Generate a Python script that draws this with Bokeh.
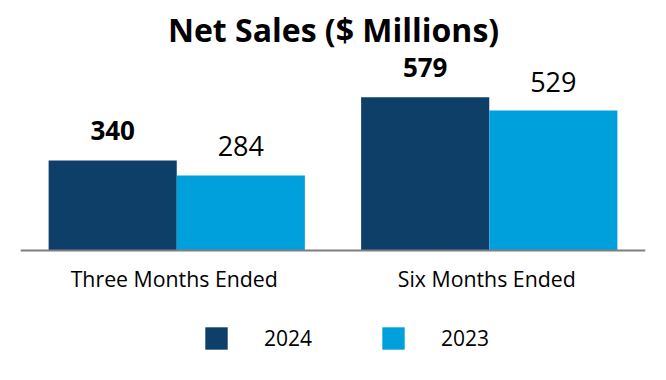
from bokeh.plotting import figure
from bokeh.models import (FactorRange, Range1d, ColumnDataSource, Legend,
                          LegendItem, Span, Label)
from bokeh.transform import dodge
from bokeh.core.properties import value
from bokeh.embed import file_html
from bokeh.resources import INLINE

title_text = "Net Sales ($ Millions)"
categories = ["Three Months Ended", "Six Months Ended"]
series = ["2024", "2023"]
sales_2024 = [340, 579]
sales_2023 = [284, 529]

FONT = "Open Sans"
DARK = "#0e3f68"
LIGHT = "#00a0dc"

src = ColumnDataSource(dict(
    cat=categories,
    base=[0] * len(categories),
    y2024=sales_2024,
    y2023=sales_2023,
    l2024=[str(v) for v in sales_2024],
    l2023=[str(v) for v in sales_2023],
))

PX = 0.2645  # pixels per million
p = figure(width=650, height=364,
           x_range=FactorRange(*categories, range_padding=0),
           y_range=Range1d(-114 / PX, 250 / PX),
           output_backend="svg", toolbar_location=None,
           min_border_left=20, min_border_right=5,
           min_border_top=0, min_border_bottom=0)
p.outline_line_color = None
p.grid.visible = False
p.axis.visible = False

W = 0.41
r1 = p.vbar(x=dodge("cat", -W / 2, range=p.x_range), top="y2024", width=W,
            source=src, fill_color=DARK, line_color=None)
r2 = p.vbar(x=dodge("cat", W / 2, range=p.x_range), top="y2023", width=W,
            source=src, fill_color=LIGHT, line_color=None)

# baseline
p.add_layout(Span(location=0, dimension="width", line_color="#7f7f7f",
                  line_width=2))

# value labels
p.text(x=dodge("cat", -W / 2, range=p.x_range), y="y2024", text="l2024", source=src,
       text_align="center", text_baseline="alphabetic", y_offset=-30,
       text_font=value(FONT), text_font_size="26px", text_font_style="bold",
       text_color="black")
p.text(x=dodge("cat", W / 2, range=p.x_range), y="y2023", text="l2023", source=src,
       text_align="center", text_baseline="alphabetic", y_offset=-29,
       text_font=value(FONT), text_font_size="27px", text_font_style="normal",
       text_color="black")

# category labels
p.text(x="cat", y="base", text="cat", source=src,
       text_align="center", text_baseline="alphabetic", y_offset=28, x_offset=-2.5,
       text_font=value(FONT), text_font_size="21.3px", text_color="black")

# title
p.add_layout(Label(x=313, y=335, x_units="screen", y_units="screen",
                   text=title_text, text_align="center",
                   text_baseline="alphabetic", text_font=FONT,
                   text_font_size="32px", text_font_style="bold",
                   text_color="black"))

legend = Legend(items=[LegendItem(label=series[0], renderers=[r1]),
                       LegendItem(label=series[1], renderers=[r2])],
                orientation="horizontal", location=(182, 12),
                glyph_width=28, glyph_height=28, label_standoff=34, spacing=67,
                label_text_font=FONT, label_text_font_size="21px",
                label_text_color="black",
                label_height=28, border_line_color=None,
                margin=0, padding=0, background_fill_alpha=0)
p.add_layout(legend, "center")

open("out.html", "w").write(file_html(p, INLINE))
